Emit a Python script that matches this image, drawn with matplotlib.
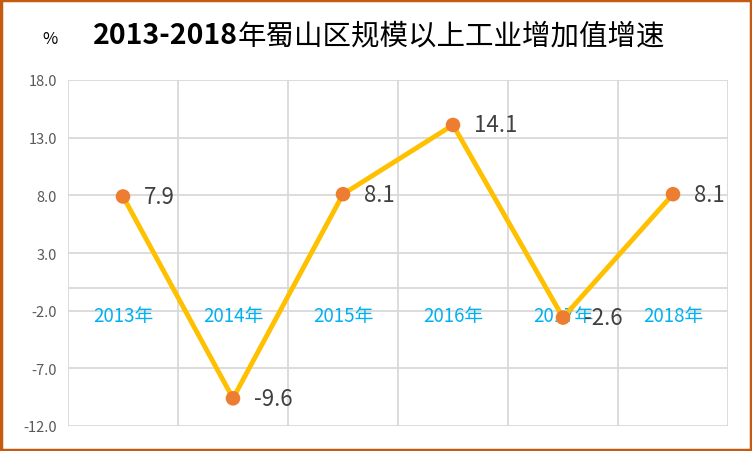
import matplotlib
matplotlib.use("Agg")
import matplotlib.pyplot as plt
from matplotlib.patches import Rectangle

plt.rcParams['font.family'] = ['Noto Sans CJK SC', 'DejaVu Sans']

categories = ["2013年", "2014年", "2015年", "2016年", "2017年", "2018年"]
values = [7.9, -9.6, 8.1, 14.1, -2.6, 8.1]
yticks = [-12.0, -7.0, -2.0, 3.0, 8.0, 13.0, 18.0]
title_num = "2013-2018"
title_txt = "年蜀山区规模以上工业增加值增速"

fig = plt.figure(figsize=(7.52, 4.52), dpi=100)
W, H = 752, 452
ax = fig.add_axes([68 / W, 1 - 427 / H, 660 / W, 346 / H])

x = list(range(len(categories)))
ax.set_xlim(-0.5, len(categories) - 0.5)
ax.set_ylim(-12, 18)

grid_c = "#D9D9D9"
for b in [i - 0.5 for i in range(len(categories) + 1)]:
    ax.axvline(b, color=grid_c, lw=1.3, zorder=1)
for t in yticks:
    ax.axhline(t, color=grid_c, lw=1.3, zorder=1)
ax.axhline(0, color=grid_c, lw=1.3, zorder=1)

ax.plot(x, values, color="#FFC000", lw=3.5, zorder=3, solid_joinstyle='miter')
ax.scatter(x, values, s=110, color="#ED7D31", zorder=4, edgecolors='none')

for xi, v in zip(x, values):
    ax.annotate(f"{v:.1f}", (xi, v), xytext=(15, 0), textcoords="offset points",
                va="center", ha="left", fontsize=16, color="#404040", zorder=5)

for xi, c in zip(x, categories):
    ax.text(xi, -1.5, c, ha="center", va="top", fontsize=13.5, color="#00B0F0", zorder=2)

ax.set_xticks([])
ax.set_yticks(yticks)
ax.set_yticklabels([f"{t:.1f}" for t in yticks], fontsize=10.5, color="#595959")
ax.tick_params(axis='y', length=0, pad=8)
for s in ax.spines.values():
    s.set_visible(False)

t1 = fig.text(93 / W, 1 - 36 / H, title_num, ha="left", va="center", fontsize=20.5,
              fontweight="bold", color="black")
fig.canvas.draw()
bb = t1.get_window_extent()
fig.text(bb.x1 / W, 1 - 36 / H, title_txt, ha="left", va="center", fontsize=20.5,
         fontweight="normal", color="black")
fig.text(50 / W, 1 - 40 / H, "%", ha="center", va="center", fontsize=12, color="black")

fig.patches.append(Rectangle((0.0015, 0.0025), 0.997, 0.995, transform=fig.transFigure,
                             fill=False, edgecolor="#C55A11", lw=2.5))

fig.savefig("out.png", dpi=100, facecolor="white")
